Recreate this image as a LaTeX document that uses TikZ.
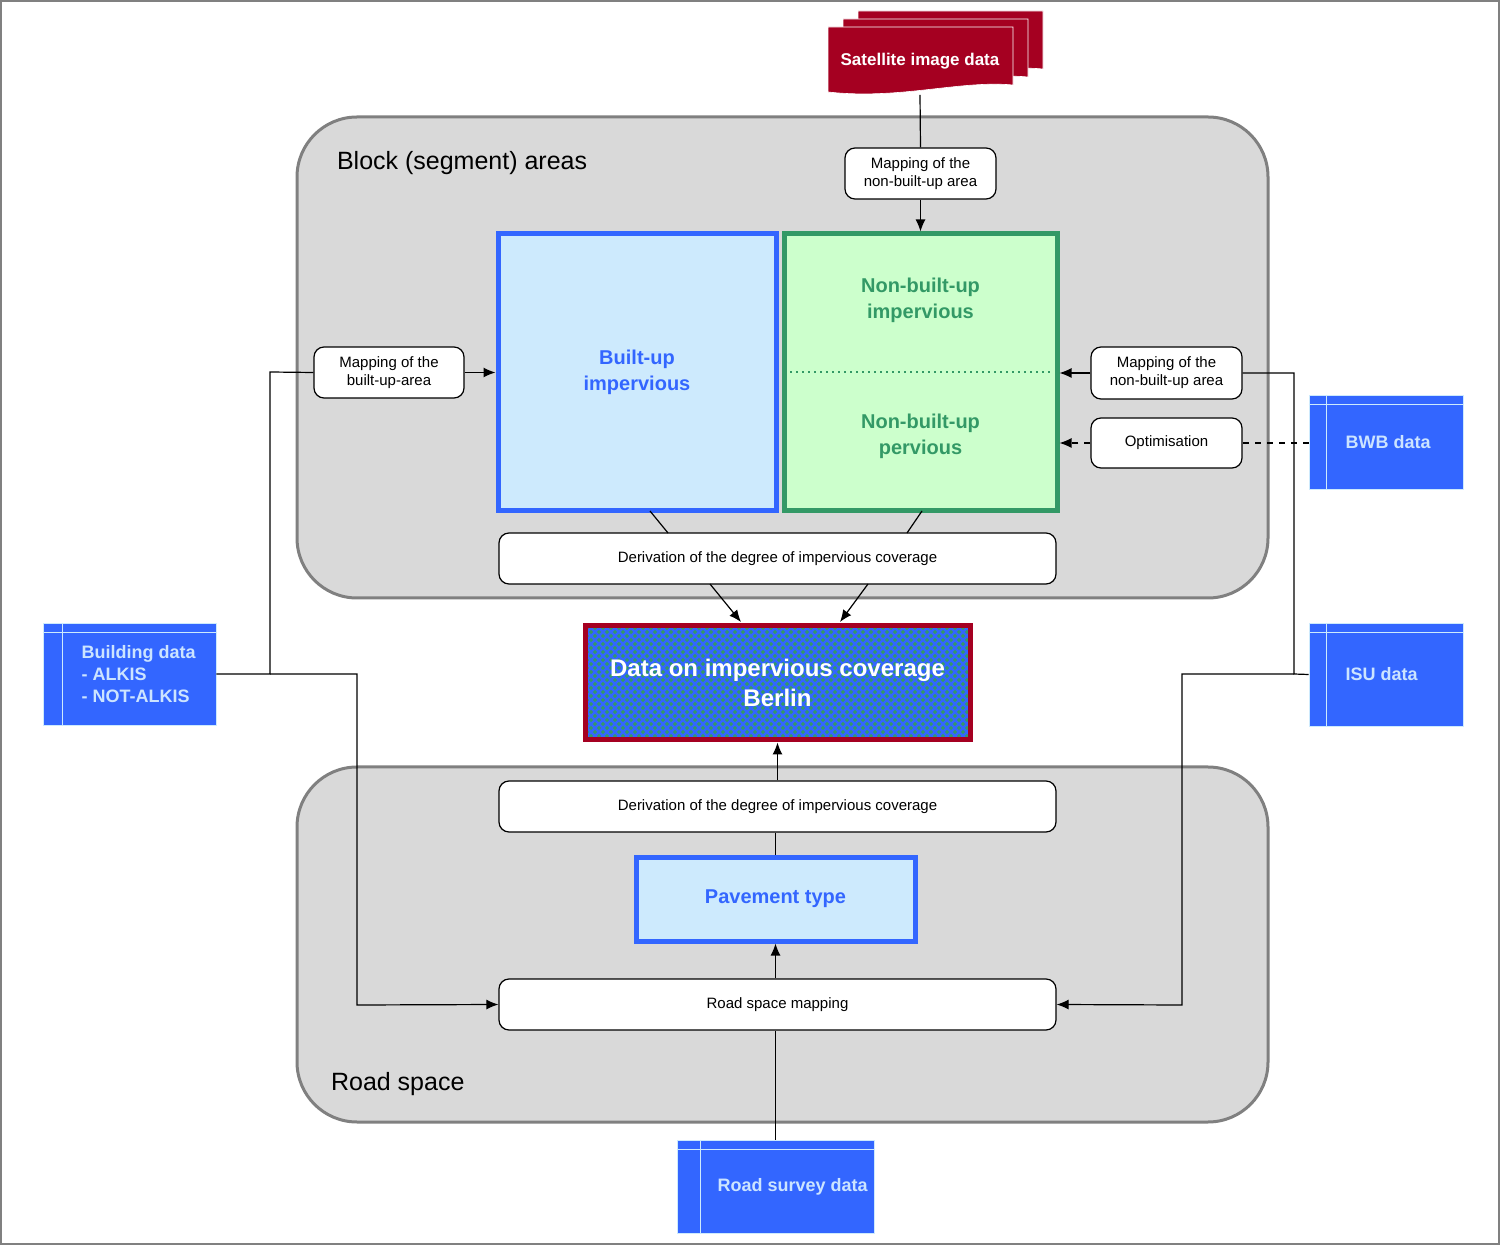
\documentclass[tikz,border=0pt]{standalone}
\usepackage{fontspec}
\setmainfont{Liberation Sans}
\usetikzlibrary{arrows.meta}
\definecolor{cblue}{HTML}{3366FF}
\definecolor{lblue}{HTML}{CDEAFD}
\definecolor{cred}{HTML}{A50021}
\definecolor{cgreen}{HTML}{339966}
\definecolor{lgreen}{HTML}{CCFFCC}
\definecolor{gfill}{HTML}{D9D9D9}
\definecolor{gline}{HTML}{808080}
\definecolor{stext}{HTML}{CCE4FF}
\begin{document}
\begin{tikzpicture}[x=0.5pt,y=-0.5pt,
  area/.style={draw=gline,fill=gfill,line width=1.5pt,rounded corners=30pt},
  proc/.style={draw=black,fill=white,rounded corners=5pt,line width=0.6pt,align=center,font=\fontsize{7.5}{9}\selectfont,inner sep=0pt},
  big/.style={line width=2.5pt,align=center,font=\fontsize{10}{13}\selectfont\bfseries,inner sep=0pt},
  store/.style={fill=cblue,draw=lblue,line width=0.4pt,inner sep=0pt},
  stl/.style={anchor=west,text=stext,font=\fontsize{9}{11}\selectfont\bfseries,align=left},
  arr/.style={-{Latex[length=6pt,width=5pt]},line width=0.6pt},
  ln/.style={line width=0.6pt}]
\useasboundingbox (0,0) rectangle (1500,1245);
\draw[gline,line width=0.6pt] (1,1) rectangle (1499,1244);
% areas
\draw[area] (297,117) rectangle (1268,598);
\draw[area] (297,767) rectangle (1268,1122);
\node[anchor=west,font=\fontsize{12.5}{14}\selectfont] (t1) at (330,163) {Block (segment) areas};
\node[anchor=west,font=\fontsize{12.5}{14}\selectfont] (t2) at (324,1084) {Road space};
% satellite
\foreach \dx/\dy in {30/-16,15/-8}{
  \fill[cred,draw=white,line width=0.3pt] (828+\dx,27+\dy) -- (1013+\dx,27+\dy) -- (1013+\dx,85+\dy) .. controls (960+\dx,80+\dy) and (900+\dx,100+\dy) .. (828+\dx,92+\dy) -- cycle;
}
\fill[cred,draw=white,line width=0.3pt] (828,27) -- (1013,27) -- (1013,85) .. controls (960,80) and (900,100) .. (828,92) -- cycle;
\node[text=white,font=\fontsize{8.5}{10}\selectfont\bfseries] (sat) at (920,61) {Satellite image data};
\coordinate (satb) at (920,95);
% process nodes
\node[proc,minimum width=75.5pt,minimum height=25.5pt] (mapT) at (920.5,173.5) {Mapping of the\\non-built-up area};
\node[proc,minimum width=75pt,minimum height=25.5pt] (mapL) at (389,372.5) {Mapping of the\\built-up-area};
\node[proc,minimum width=75.5pt,minimum height=26pt] (mapR) at (1166.5,373) {Mapping of the\\non-built-up area};
\node[proc,minimum width=75.5pt,minimum height=25pt] (opt) at (1166.5,443) {Optimisation};
\node[proc,minimum width=278.5pt,minimum height=25.5pt] (der1) at (777.5,558.5) {Derivation of the degree of impervious coverage};
\node[proc,minimum width=278.5pt,minimum height=25.5pt] (der2) at (777.5,806.5) {Derivation of the degree of impervious coverage};
\node[proc,minimum width=278.5pt,minimum height=25.5pt] (road) at (777.5,1004.5) {Road space mapping};
% big boxes
\node[big,draw=cblue,fill=lblue,text=cblue,minimum width=139pt,minimum height=138.5pt] (bu) at (637,372.5) {Built-up\\impervious};
\node[big,draw=cgreen,fill=lgreen,minimum width=136.5pt,minimum height=138.5pt] (nb) at (920.5,372.5) {};
\node[big,text=cgreen] (nbi) at (920.5,300) {Non-built-up\\impervious};
\node[big,text=cgreen] (nbp) at (920.5,436) {Non-built-up\\pervious};
\draw[cgreen,dotted,line width=1pt] (790,372) -- (1052,372);
\node[big,draw=cblue,fill=lblue,text=cblue,minimum width=139.5pt,minimum height=42pt] (pave) at (775.5,899) {Pavement type};
% data node
\fill[cblue] (585,626) rectangle (970,740);
\begin{scope}
\clip (585,626) rectangle (970,740);
\foreach \r in {0,...,29}{
  \pgfmathsetmacro{\off}{mod(\r,2)*4}
  \foreach \c in {0,...,49}{
    \fill[cgreen] (583+\c*8+\off,624+\r*4) +(0,-2.2) -- +(2.2,0) -- +(0,2.2) -- +(-2.2,0) -- cycle;
  }
}
\end{scope}
\node[draw=cred,line width=2.5pt,minimum width=192.5pt,minimum height=57pt,text=white,align=center,font=\fontsize{12}{15}\selectfont\bfseries,inner sep=0pt] (data) at (777.5,683) {Data on impervious coverage\\Berlin};
% stores
\node[store,minimum width=77pt,minimum height=47pt,label={[stl,xshift=15pt]west:BWB data}] (bwb) at (1386,442) {};
\node[store,minimum width=77pt,minimum height=51.5pt,label={[stl,xshift=15pt]west:ISU data}] (isu) at (1386,674.5) {};
\node[store,minimum width=86.5pt,minimum height=51pt,label={[stl,xshift=16pt]west:Building data\\- ALKIS\\- NOT-ALKIS}] (bld) at (129.5,674) {};
\node[store,minimum width=98.5pt,minimum height=46.5pt,label={[stl,xshift=17pt]west:Road survey data}] (sur) at (775.5,1186.5) {};
\foreach \n/\a/\b in {bwb/9pt/5pt,isu/9pt/5pt,bld/10pt/5pt,sur/12pt/5pt}{
  \draw[lblue,line width=0.4pt] ([yshift=-\b]\n.north west) -- ([yshift=-\b]\n.north east);
  \draw[lblue,line width=0.4pt] ([xshift=\a]\n.north west) -- ([xshift=\a]\n.south west);
}
% connectors
\draw[ln] (satb) -- (mapT.north);
\draw[arr] (mapT.south) -- (nb.north);
\draw[arr] (mapL.east) -- (bu.west);
\draw[arr] (mapR.west) -- (nb.east |- mapR.west);
\draw[arr,dashed] (opt.west) -- (nb.east |- opt.west);
\draw[ln,dashed] (bwb.west |- opt.east) -- (opt.east);
\draw[ln] (650,511) -- (668,533);
\draw[ln] (922,511) -- (907,533);
\draw[arr] (710,584) -- (741,622);
\draw[arr] (868,584) -- (840,622);
\draw[arr] (der2.north -| data.south) -- (data.south);
\draw[ln] (der2.south -| pave.north) -- (pave.north);
\draw[arr] (road.north -| pave.south) -- (pave.south);
\draw[ln] (sur.north) -- (sur.north |- road.south);
\draw[ln] (bld.east) -- (270,674) -- (270,372) -- (mapL.west);
\draw[arr] (270,674) -- (357,674) -- (357,1005) -- (road.west);
\draw[ln] (mapR.east) -- (1294,373) -- (1294,674) -- (isu.west);
\draw[arr] (1294,674) -- (1182,674) -- (1182,1005) -- (road.east);
\end{tikzpicture}
\end{document}
